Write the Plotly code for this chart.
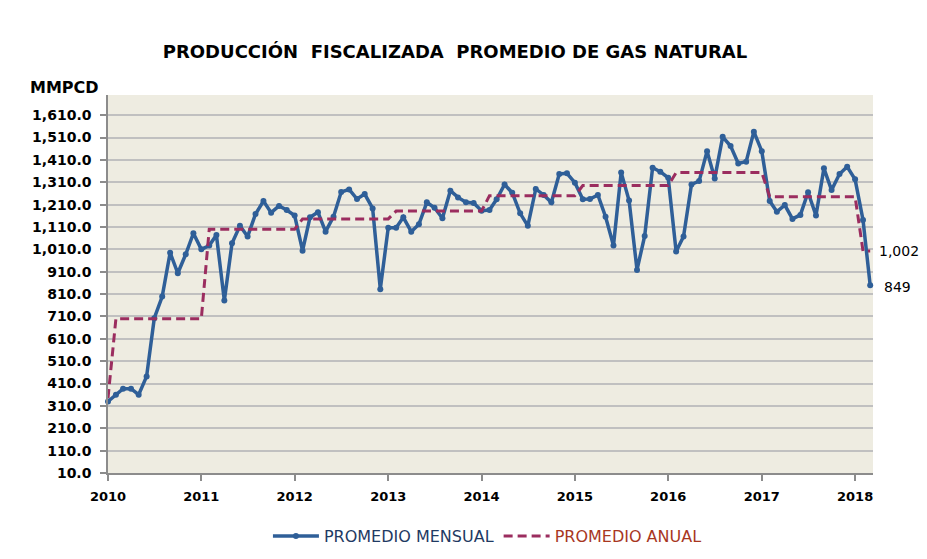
import plotly.graph_objects as go

# Month categories (Jan 2010 .. Mar 2018)
months = [f"{y}-{m:02d}-01" for y in range(2010, 2019) for m in range(1, 13)][:99]

# Monthly average production (MMPCD)
promedio_mensual = [
    330, 360, 387, 387, 360, 442, 702, 799, 995, 903, 988, 1082,
    1010, 1027, 1074, 781, 1037, 1115, 1067, 1168, 1226, 1174, 1204, 1186,
    1161, 1004, 1153, 1176, 1089, 1156, 1266, 1278, 1235, 1257, 1193, 832,
    1107, 1107, 1153, 1089, 1122, 1220, 1196, 1149, 1272, 1242, 1220, 1217,
    1183, 1186, 1234, 1300, 1263, 1171, 1115, 1280, 1253, 1220, 1347, 1350,
    1308, 1234, 1235, 1253, 1156, 1027, 1354, 1228, 918, 1070, 1375, 1357,
    1330, 1000, 1067, 1300, 1315, 1449, 1327, 1513, 1472, 1394, 1402, 1536,
    1449, 1226, 1178, 1208, 1146, 1164, 1265, 1161, 1372, 1275, 1347, 1379,
    1323, 1141, 849,
]

# Annual average (step line as drawn in the chart)
promedio_anual = [
    345,
    700, 700, 700, 700, 700, 700, 700, 700, 700, 700, 700, 700,
    1100, 1100, 1100, 1100, 1100, 1100, 1100, 1100, 1100, 1100, 1100, 1100,
    1146, 1146, 1146, 1146, 1146, 1146, 1146, 1146, 1146, 1146, 1146, 1146,
    1181, 1181, 1181, 1181, 1181, 1181, 1181, 1181, 1181, 1181, 1181, 1181,
    1250, 1250, 1250, 1250, 1250, 1250, 1250, 1250, 1250, 1250, 1250, 1250,
    1295, 1295, 1295, 1295, 1295, 1295, 1295, 1295, 1295, 1295, 1295, 1295,
    1353, 1353, 1353, 1353, 1353, 1353, 1353, 1353, 1353, 1353, 1353, 1353,
    1245, 1245, 1245, 1245, 1245, 1245, 1245, 1245, 1245, 1245, 1245, 1245,
    1002, 1002,
]

y_ticks = [10, 110, 210, 310, 410, 510, 610, 710, 810, 910,
           1010, 1110, 1210, 1310, 1410, 1510, 1610]
y_tick_labels = [f"{v:,.1f}" for v in y_ticks]

BLUE = "#2F5F98"
MAROON = "#9B2D5F"
FONT = "DejaVu Sans"

fig = go.Figure()
fig.add_trace(go.Scatter(
    x=months, y=promedio_mensual, mode="lines+markers",
    name="<span style='color:#1F3A63'>PROMEDIO MENSUAL</span>",
    line=dict(color=BLUE, width=3.5),
    marker=dict(color=BLUE, size=6),
    cliponaxis=False,
))
fig.add_trace(go.Scatter(
    x=months, y=promedio_anual, mode="lines",
    name="<span style='color:#A8371F'>PROMEDIO ANUAL</span>",
    line=dict(color=MAROON, width=3, dash="9px,5px"),
    cliponaxis=False,
))

fig.add_annotation(x=months[-1], y=promedio_anual[-1], text=f"{promedio_anual[-1]:,}",
                   xanchor="left", yanchor="middle", xshift=7, showarrow=False,
                   font=dict(family=FONT, size=14, color="#000000"))
fig.add_annotation(x=months[-1], y=promedio_mensual[-1], text=f"{promedio_mensual[-1]:,}",
                   xanchor="left", yanchor="middle", xshift=12, yshift=-2, showarrow=False,
                   font=dict(family=FONT, size=14, color="#000000"))
fig.add_annotation(xref="paper", yref="paper", x=-0.105, y=1.021, text="<b>MMPCD</b>",
                   xanchor="left", yanchor="middle", showarrow=False,
                   font=dict(family=FONT, size=16, color="#000000"))

fig.update_layout(
    width=919, height=551,
    margin=dict(l=100, r=54, t=87, b=86, autoexpand=False),
    paper_bgcolor="#FFFFFF", plot_bgcolor="#EEECE1",
    title=dict(text="<b>PRODUCCIÓN  FISCALIZADA  PROMEDIO DE GAS NATURAL</b>",
               x=0.4864, xref="container", xanchor="center",
               y=0.920, yref="container", yanchor="middle",
               font=dict(family=FONT, size=18, color="#000000")),
    showlegend=True,
    legend=dict(orientation="h", x=0.496, xanchor="center", y=-0.167, yanchor="middle",
                font=dict(family=FONT, size=16), bgcolor="rgba(0,0,0,0)",
                itemwidth=46, tracegroupgap=0),
    font=dict(family=FONT),
)
fig.update_xaxes(
    type="date", range=["2010-01-01", "2018-03-12"],
    tickformat="%Y", dtick="M12", tick0="2010-01-01",
    showgrid=False, showline=True, linecolor="#8C8C8C", linewidth=1.5,
    ticks="outside", ticklen=6, tickcolor="#8C8C8C", tickwidth=1.5,
    tickfont=dict(family=FONT, size=13, color="#000000", weight="bold"),
    ticklabelstandoff=5,
    zeroline=False, automargin=False,
)
fig.update_yaxes(
    range=[10, 1700], tickvals=y_ticks, ticktext=y_tick_labels,
    showgrid=True, gridcolor="#C0C0C0", gridwidth=1.5,
    showline=True, linecolor="#8C8C8C", linewidth=1.5,
    ticks="outside", ticklen=6, tickcolor="#8C8C8C", tickwidth=1.5,
    tickfont=dict(family=FONT, size=14, color="#000000", weight="bold"),
    ticklabelstandoff=6,
    zeroline=False, automargin=False,
)

fig.write_html("out.html")
